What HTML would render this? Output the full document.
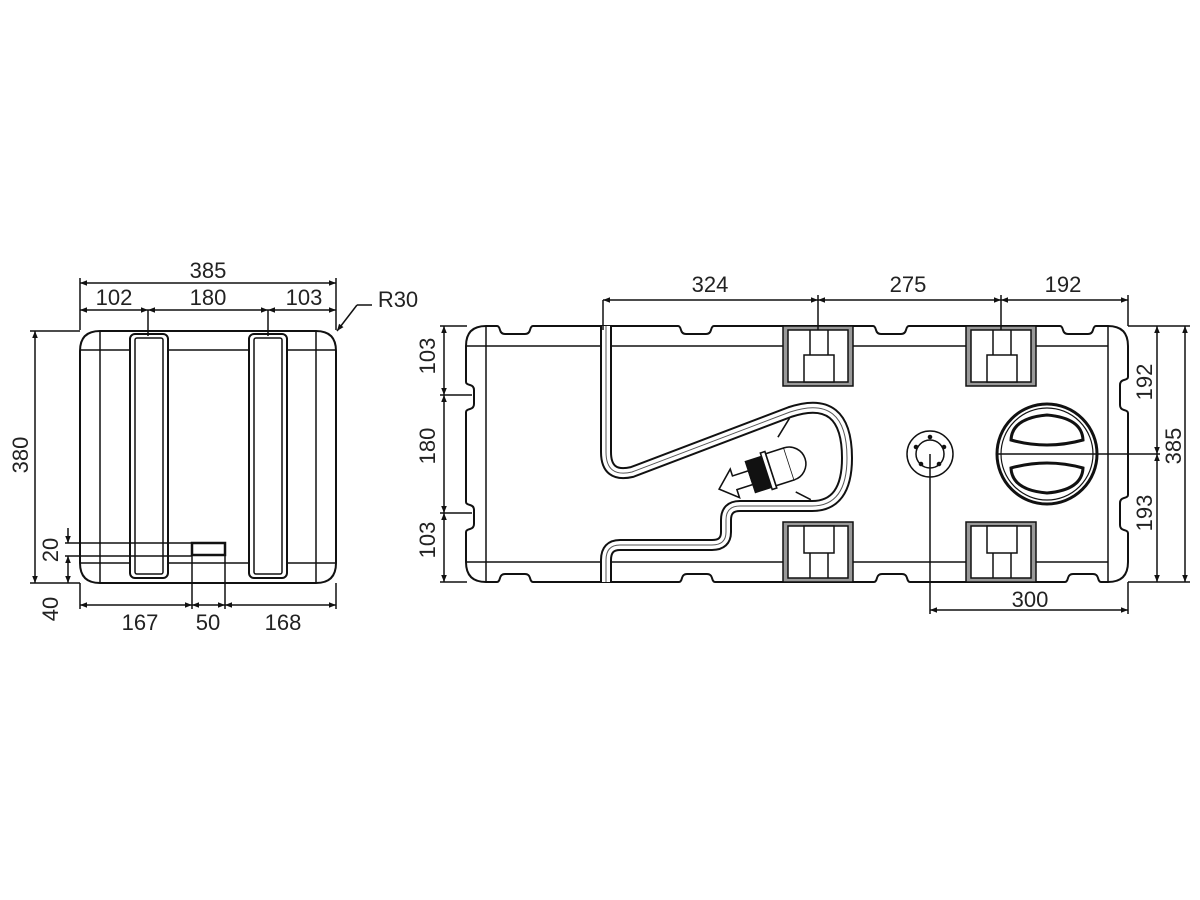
<!DOCTYPE html>
<html><head><meta charset="utf-8"><style>
html,body{margin:0;padding:0;background:#fff;}
svg{display:block;}
text{font-family:"Liberation Sans",sans-serif;font-size:22px;fill:#222;}
</style></head><body>
<svg width="1200" height="900" viewBox="0 0 1200 900" xmlns="http://www.w3.org/2000/svg">
<defs>
<marker id="a" viewBox="0 0 10 10" refX="10" refY="5" markerWidth="9" markerHeight="7" orient="auto-start-reverse" markerUnits="userSpaceOnUse"><path d="M0,1 L10,5 L0,9 z" fill="#111"/></marker>
</defs>
<g stroke="#111" stroke-width="1.5" fill="none">
<path d="M100,331 H316 Q336,331 336,351 V563 Q336,583 316,583 H100 Q80,583 80,563 V351 Q80,331 100,331 Z" stroke-width="2"/>
<line x1="100" y1="331" x2="100" y2="583"/>
<line x1="316" y1="331" x2="316" y2="583"/>
<line x1="80" y1="350" x2="131" y2="350"/><line x1="167" y1="350" x2="250" y2="350"/><line x1="286" y1="350" x2="336" y2="350"/>
<line x1="80" y1="563" x2="131" y2="563"/><line x1="167" y1="563" x2="250" y2="563"/><line x1="286" y1="563" x2="336" y2="563"/>
<rect x="130" y="334" width="38" height="244" rx="5" stroke-width="2"/>
<rect x="135" y="338" width="28" height="236" rx="2"/>
<rect x="249" y="334" width="38" height="244" rx="5" stroke-width="2"/>
<rect x="254" y="338" width="28" height="236" rx="2"/>
<rect x="192" y="543" width="33" height="12" stroke-width="2.5"/>
<line x1="80" y1="330" x2="80" y2="278"/><line x1="336" y1="330" x2="336" y2="278"/>
<line x1="80" y1="283" x2="336" y2="283" marker-start="url(#a)" marker-end="url(#a)"/>
<line x1="80" y1="310" x2="148" y2="310" marker-start="url(#a)" marker-end="url(#a)"/>
<line x1="148" y1="310" x2="268" y2="310" marker-start="url(#a)" marker-end="url(#a)"/>
<line x1="268" y1="310" x2="336" y2="310" marker-start="url(#a)" marker-end="url(#a)"/>
<line x1="148" y1="310" x2="148" y2="336"/><line x1="268" y1="310" x2="268" y2="336"/>
<line x1="30" y1="331" x2="80" y2="331"/><line x1="30" y1="583" x2="80" y2="583"/>
<line x1="35" y1="331" x2="35" y2="583" marker-start="url(#a)" marker-end="url(#a)"/>
<line x1="65" y1="543" x2="192" y2="543"/><line x1="65" y1="556" x2="192" y2="556"/>
<line x1="68" y1="528" x2="68" y2="543" marker-end="url(#a)"/>
<line x1="68" y1="556" x2="68" y2="583" marker-start="url(#a)" marker-end="url(#a)"/>
<line x1="80" y1="583" x2="80" y2="609"/><line x1="192" y1="555" x2="192" y2="609"/><line x1="225" y1="555" x2="225" y2="609"/><line x1="336" y1="583" x2="336" y2="609"/>
<line x1="80" y1="605" x2="192" y2="605" marker-start="url(#a)" marker-end="url(#a)"/>
<line x1="192" y1="605" x2="225" y2="605" marker-start="url(#a)" marker-end="url(#a)"/>
<line x1="225" y1="605" x2="336" y2="605" marker-start="url(#a)" marker-end="url(#a)"/>
<polyline points="357,305 372,305"/><line x1="357" y1="305" x2="337" y2="331" marker-end="url(#a)"/>

<path d="M486,326 H497 q2,0 3,4 q1,4 5,4 h20 q4,0 5,-4 q1,-4 3,-4 H678 q2,0 3,4 q1,4 5,4 h20 q4,0 5,-4 q1,-4 3,-4 H873 q2,0 3,4 q1,4 5,4 h20 q4,0 5,-4 q1,-4 3,-4 H1060 q2,0 3,4 q1,4 5,4 h20 q4,0 5,-4 q1,-4 3,-4 H1108 Q1128,326 1128,346 V377 q0,2 -4,3 q-4,1 -4,5 v20 q0,4 4,5 q4,1 4,3 V495 q0,2 -4,3 q-4,1 -4,5 v22 q0,4 4,5 q4,1 4,3 V562 Q1128,582 1108,582 H1101 q-2,0 -3,-4 q-1,-4 -5,-4 h-20 q-4,0 -5,4 q-1,4 -3,4 H910 q-2,0 -3,-4 q-1,-4 -5,-4 h-20 q-4,0 -5,4 q-1,4 -3,4 H715 q-2,0 -3,-4 q-1,-4 -5,-4 h-20 q-4,0 -5,4 q-1,4 -3,4 H533 q-2,0 -3,-4 q-1,-4 -5,-4 h-20 q-4,0 -5,4 q-1,4 -3,4 H486 Q466,582 466,562 V532 q0,-2 4,-3 q4,-1 4,-5 v-14 q0,-4 -4,-5 q-4,-1 -4,-3 V412 q0,-2 4,-3 q4,-1 4,-5 v-14 q0,-4 -4,-5 q-4,-1 -4,-3 V346 Q466,326 486,326 Z" stroke-width="2"/>
<line x1="486" y1="326" x2="486" y2="582"/>
<line x1="1108" y1="326" x2="1108" y2="582"/>
<line x1="466" y1="346" x2="784" y2="346"/><line x1="852" y1="346" x2="966" y2="346"/><line x1="1036" y1="346" x2="1108" y2="346"/>
<line x1="466" y1="562" x2="784" y2="562"/><line x1="852" y1="562" x2="966" y2="562"/><line x1="1036" y1="562" x2="1108" y2="562"/>
</g>
<g stroke="#111" stroke-width="1.5">
<g id="pt">
<rect x="783" y="326" width="70" height="60" fill="#999"/>
<rect x="788" y="330" width="60" height="52" fill="#fff"/>
<line x1="810" y1="330" x2="810" y2="355"/><line x1="828" y1="330" x2="828" y2="355"/>
<rect x="804" y="355" width="30" height="27" fill="#fff"/>
</g>
<use href="#pt" x="183"/>
<g transform="translate(0,908) scale(1,-1)">
<use href="#pt"/><use href="#pt" x="183"/>
</g>
</g>
<path d="M606,326 V452 Q606,478 632,472 L790,412 Q847,393 847,458 Q847,506 812,506 H740 Q726,506 726,520 V532 Q726,545 712,545 H620 Q606,545 606,560 V582" fill="none" stroke="#111" stroke-width="12"/>
<path d="M606,326 V452 Q606,478 632,472 L790,412 Q847,393 847,458 Q847,506 812,506 H740 Q726,506 726,520 V532 Q726,545 712,545 H620 Q606,545 606,560 V582" fill="none" stroke="#fff" stroke-width="8"/>
<path d="M606,326 V452 Q606,478 632,472 L790,412 Q847,393 847,458 Q847,506 812,506 H740 Q726,506 726,520 V532 Q726,545 712,545 H620 Q606,545 606,560 V582" fill="none" stroke="#555" stroke-width="1"/>
<g transform="translate(764,472) rotate(-18) scale(1.2)" stroke="#111" stroke-width="1.3" fill="#fff">
<path d="M-40,2 L-26,-11 V-5 H-12 V7 H-26 V14 Z"/>
<rect x="-12" y="-13" width="14" height="27" fill="#111"/>
<rect x="2" y="-16" width="4" height="32"/>
<rect x="6" y="-14" width="16" height="28"/>
<path d="M22,-14 A14,14 0 0 1 22,14" />
<line x1="20" y1="-24" x2="34" y2="-36"/><line x1="20" y1="24" x2="30" y2="34"/>
</g>
<g stroke="#111" fill="none">
<circle cx="930" cy="454" r="23" stroke-width="1.5"/>
<circle cx="930" cy="454" r="14" stroke-width="1.5"/>
<g fill="#111"><circle cx="930" cy="437" r="1.8"/><circle cx="944" cy="447" r="1.8"/><circle cx="939" cy="464" r="1.8"/><circle cx="921" cy="464" r="1.8"/><circle cx="916" cy="447" r="1.8"/></g>
<circle cx="1047" cy="454" r="50" stroke-width="3"/>
<circle cx="1047" cy="454" r="46" stroke-width="1.2"/>
<line x1="997" y1="454" x2="1097" y2="454" stroke-width="1.5"/>
<path d="M1011,440 Q1012,418 1047,415 Q1082,418 1083,440 Q1047,450 1011,440 Z" stroke-width="3"/>
<path d="M1011,468 Q1012,490 1047,493 Q1082,490 1083,468 Q1047,458 1011,468 Z" stroke-width="3"/>
</g>
<g stroke="#111" stroke-width="1.5" fill="none">
<line x1="603" y1="300" x2="603" y2="330"/><line x1="818" y1="295" x2="818" y2="330"/><line x1="1001" y1="295" x2="1001" y2="330"/><line x1="1128" y1="295" x2="1128" y2="326"/>
<line x1="603" y1="300" x2="818" y2="300" marker-start="url(#a)" marker-end="url(#a)"/>
<line x1="818" y1="300" x2="1001" y2="300" marker-start="url(#a)" marker-end="url(#a)"/>
<line x1="1001" y1="300" x2="1128" y2="300" marker-start="url(#a)" marker-end="url(#a)"/>
<line x1="440" y1="326" x2="467" y2="326"/><line x1="440" y1="582" x2="467" y2="582"/>
<line x1="440" y1="395" x2="472" y2="395"/><line x1="440" y1="513" x2="472" y2="513"/>
<line x1="444" y1="326" x2="444" y2="395" marker-start="url(#a)" marker-end="url(#a)"/>
<line x1="444" y1="395" x2="444" y2="513" marker-start="url(#a)" marker-end="url(#a)"/>
<line x1="444" y1="513" x2="444" y2="582" marker-start="url(#a)" marker-end="url(#a)"/>
<line x1="1128" y1="326" x2="1190" y2="326"/><line x1="1128" y1="582" x2="1190" y2="582"/>
<line x1="1097" y1="454" x2="1160" y2="454"/>
<line x1="1157" y1="326" x2="1157" y2="454" marker-start="url(#a)" marker-end="url(#a)"/>
<line x1="1157" y1="454" x2="1157" y2="582" marker-start="url(#a)" marker-end="url(#a)"/>
<line x1="1185" y1="326" x2="1185" y2="582" marker-start="url(#a)" marker-end="url(#a)"/>
<line x1="930" y1="454" x2="930" y2="614"/><line x1="1128" y1="582" x2="1128" y2="614"/>
<line x1="930" y1="610" x2="1128" y2="610" marker-start="url(#a)" marker-end="url(#a)"/>
</g>
<g text-anchor="middle">
<text x="208" y="278">385</text>
<text x="114" y="305">102</text>
<text x="208" y="305">180</text>
<text x="304" y="305">103</text>
<text x="398" y="307">R30</text>
<text x="140" y="630">167</text>
<text x="208" y="630">50</text>
<text x="283" y="630">168</text>
<text transform="translate(28,455) rotate(-90)">380</text>
<text transform="translate(58,550) rotate(-90)">20</text>
<text transform="translate(58,609) rotate(-90)">40</text>
<text x="710" y="292">324</text>
<text x="908" y="292">275</text>
<text x="1063" y="292">192</text>
<text x="1030" y="607">300</text>
<text transform="translate(435,356) rotate(-90)">103</text>
<text transform="translate(435,446) rotate(-90)">180</text>
<text transform="translate(435,540) rotate(-90)">103</text>
<text transform="translate(1152,382) rotate(-90)">192</text>
<text transform="translate(1152,513) rotate(-90)">193</text>
<text transform="translate(1181,446) rotate(-90)">385</text>
</g>
</svg>
</body></html>
